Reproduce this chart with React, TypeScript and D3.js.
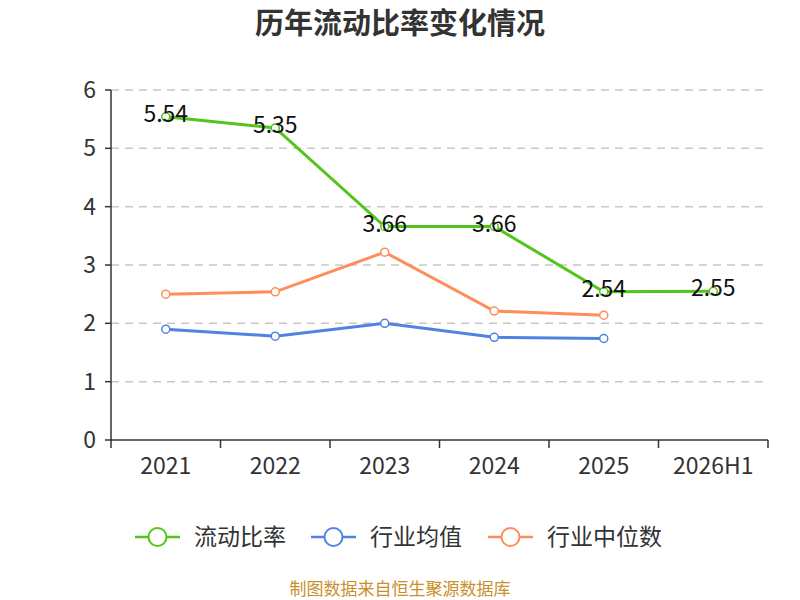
import * as React from "react";
import * as d3 from "d3";

const categories = ["2021", "2022", "2023", "2024", "2025", "2026H1"];
const currentRatio = [5.54, 5.35, 3.66, 3.66, 2.54, 2.55];
const industryMean = [1.9, 1.78, 2.0, 1.76, 1.74];
const industryMedian = [2.5, 2.54, 3.22, 2.21, 2.14];
const yTicks = [0, 1, 2, 3, 4, 5, 6];

const series = [
  { name: "流动比率", color: "#52c41a", values: currentRatio, labels: true },
  { name: "行业均值", color: "#4f82e3", values: industryMean, labels: false },
  { name: "行业中位数", color: "#ff8d5a", values: industryMedian, labels: false },
];

const width = 800;
const height = 600;
const margin = { left: 111, right: 32, top: 90, bottom: 160 };
const font = "'Noto Sans CJK SC', 'Noto Sans', sans-serif";

export default function App() {
  const xScale = React.useMemo(
    () => d3.scaleBand().domain(categories).range([margin.left, width - margin.right]),
    []
  );
  const yScale = React.useMemo(
    () => d3.scaleLinear().domain([0, 6]).range([height - margin.bottom, margin.top]),
    []
  );
  const cx = (i: number) => (xScale(categories[i]) || 0) + xScale.bandwidth() / 2;
  const y0 = yScale(0);

  const line = d3
    .line<number>()
    .x((_, i) => cx(i))
    .y((d) => yScale(d));

  const legendX = [135, 311, 488];

  return (
    <svg width={width} height={height} style={{ position: "absolute", left: 0, top: 0 }} fontFamily={font}>
      <rect width={width} height={height} fill="#fff" />
      <text x={400} y={34} textAnchor="middle" fontSize={29} fontWeight="bold" fill="#333">
        历年流动比率变化情况
      </text>

      {yTicks.map((t) => (
        <g key={t}>
          {t > 0 && (
            <line
              x1={margin.left}
              x2={width - margin.right}
              y1={yScale(t)}
              y2={yScale(t)}
              stroke="#c8c8c8"
              strokeDasharray="8,6"
              strokeWidth={1.5}
            />
          )}
          <line x1={margin.left - 6} x2={margin.left} y1={yScale(t)} y2={yScale(t)} stroke="#333" strokeWidth={1.5} />
          <text x={margin.left - 15} y={yScale(t)} dy="0.35em" textAnchor="end" fontSize={23} fill="#333">
            {t}
          </text>
        </g>
      ))}
      <line x1={margin.left} x2={margin.left} y1={margin.top} y2={y0} stroke="#333" strokeWidth={1.5} />
      <line x1={margin.left} x2={width - margin.right} y1={y0} y2={y0} stroke="#333" strokeWidth={1.5} />
      {[...categories.map((c) => xScale(c) || 0), width - margin.right].map((x, i) => (
        <line key={i} x1={x} x2={x} y1={y0} y2={y0 + 8} stroke="#333" strokeWidth={1.5} />
      ))}
      {categories.map((c, i) => (
        <text key={c} x={cx(i)} y={y0 + 34} textAnchor="middle" fontSize={23} fill="#333">
          {c}
        </text>
      ))}

      {series.map((s) => (
        <g key={s.name}>
          <path d={line(s.values) || ""} fill="none" stroke={s.color} strokeWidth={3} />
          {s.values.map((v, i) => (
            <circle key={i} cx={cx(i)} cy={yScale(v)} r={4} fill="#fff" stroke={s.color} strokeWidth={1.5} />
          ))}
        </g>
      ))}
      {series
        .filter((s) => s.labels)
        .map((s) =>
          s.values.map((v, i) => (
            <text key={i} x={cx(i)} y={yScale(v)} dy="0.22em" textAnchor="middle" fontSize={23} fill="#111">
              {v.toFixed(2)}
            </text>
          ))
        )}

      {series.map((s, i) => (
        <g key={s.name} transform={`translate(${legendX[i]},537)`}>
          <line x1={0} x2={45} y1={0} y2={0} stroke={s.color} strokeWidth={2.5} />
          <circle cx={22.5} cy={0} r={9} fill="#fff" stroke={s.color} strokeWidth={2} />
          <text x={59} y={0} dy="0.35em" fontSize={23} fill="#333">
            {s.name}
          </text>
        </g>
      ))}

      <text x={400} y={595} textAnchor="middle" fontSize={17} fill="#c8902a">
        制图数据来自恒生聚源数据库
      </text>
    </svg>
  );
}
